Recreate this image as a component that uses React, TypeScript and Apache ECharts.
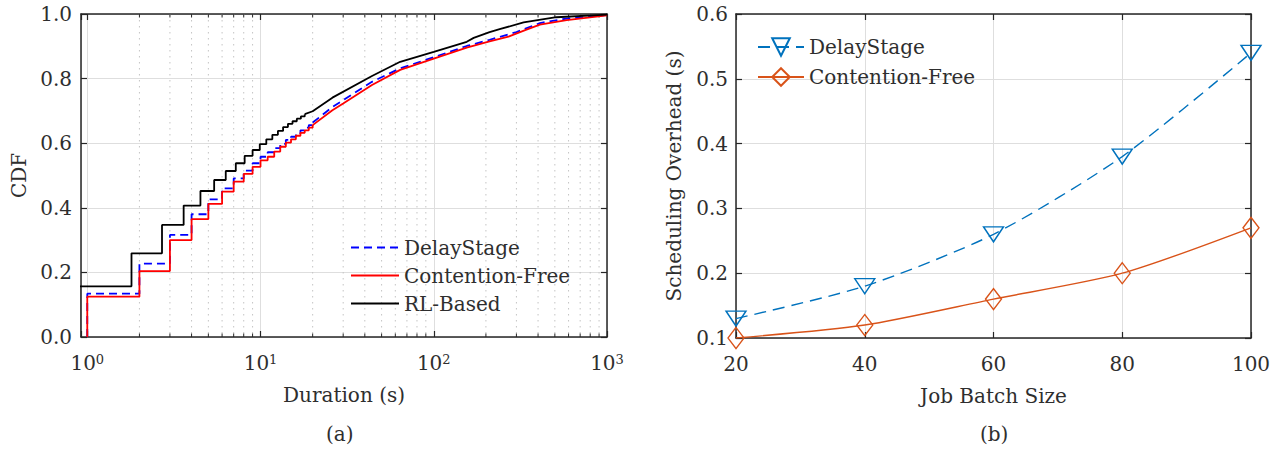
import React, { useEffect, useRef } from 'react';
import * as echarts from 'echarts';

// ---------- Panel (a): CDF of job durations ----------
const delayStepX = [1, 1, 2, 3, 4, 5, 6, 7, 8, 9, 10, 11, 12, 13, 14, 15, 16, 17, 18, 19, 20];
const delayStepF = [0, 0.134, 0.227, 0.316, 0.38, 0.426, 0.46, 0.491, 0.515, 0.538, 0.558, 0.572, 0.585, 0.598, 0.61, 0.62, 0.631, 0.64, 0.648, 0.656, 0.664];
const delayTailX = [20, 26, 30, 44, 64, 100, 155, 210, 300, 410, 585, 1000];
const delayTailF = [0.664, 0.712, 0.733, 0.79, 0.832, 0.866, 0.901, 0.92, 0.944, 0.972, 0.986, 0.997];

const freeStepX = [1, 1, 2, 3, 4, 5, 6, 7, 8, 9, 10, 11, 12, 13, 14, 15, 16, 17, 18, 19, 20];
const freeStepF = [0, 0.125, 0.204, 0.3, 0.365, 0.412, 0.45, 0.481, 0.505, 0.527, 0.547, 0.558, 0.574, 0.589, 0.602, 0.612, 0.623, 0.632, 0.64, 0.648, 0.656];
const freeTailX = [20, 26, 30, 44, 64, 100, 155, 210, 270, 340, 410, 585, 1000];
const freeTailF = [0.656, 0.702, 0.723, 0.78, 0.827, 0.862, 0.896, 0.915, 0.93, 0.951, 0.967, 0.981, 0.996];

const rlStepX = [0.9, 0.9, 1.8, 2.7, 3.6, 4.5, 5.4, 6.3, 7.2, 8.1, 9, 9.9, 10.8, 11.7, 12.6, 13.5, 14.4, 15.3, 16.2, 17.1, 18];
const rlStepF = [0, 0.157, 0.259, 0.347, 0.407, 0.452, 0.486, 0.514, 0.538, 0.561, 0.579, 0.597, 0.612, 0.626, 0.638, 0.65, 0.66, 0.668, 0.676, 0.683, 0.69];
const rlTailX = [18, 20, 26, 44, 64, 100, 155, 170, 210, 240, 330, 510, 1000];
const rlTailF = [0.69, 0.699, 0.741, 0.808, 0.852, 0.883, 0.914, 0.926, 0.944, 0.953, 0.974, 0.99, 0.998];

const minorTickValues = [2, 3, 4, 5, 6, 7, 8, 9, 20, 30, 40, 50, 60, 70, 80, 90, 200, 300, 400, 500, 600, 700, 800, 900];

// ---------- Panel (b): scheduling overhead ----------
const batchSizes = [20, 40, 60, 80, 100];
const delayOverhead = [0.13, 0.18, 0.26, 0.38, 0.54];
const freeOverhead = [0.1, 0.12, 0.16, 0.2, 0.27];

const legendA = ['DelayStage', 'Contention-Free', 'RL-Based'];
const legendB = ['DelayStage (b)', 'Contention-Free (b)'];

const FONT = 'DejaVu Serif';
const INK = '#2e2e2e';
const GRID = '#dedede';
const FS = 20;

const zip = (xs: number[], ys: number[]) => xs.map((x, i) => [x, ys[i]]);

const axisLine = { show: true, onZero: false, lineStyle: { color: '#262626', width: 1.5 } };
const tickIn = { show: true, inside: true, length: 6, lineStyle: { color: '#262626', width: 1.2 } };
const split = { show: true, lineStyle: { color: GRID, width: 1 } };
const label = { color: INK, fontFamily: FONT, fontSize: FS };
const nameStyle = { color: INK, fontFamily: FONT, fontSize: FS };

function logLabel(v: number) {
  const e = Math.log10(v);
  const r = Math.round(e);
  if (Math.abs(e - r) > 1e-6) return '';
  return `{b|10}{s|${r}}`;
}

export default function App() {
  const ref = useRef<HTMLDivElement>(null);
  useEffect(() => {
    document.body.style.margin = '0';
    const chart = echarts.init(ref.current!, null, { renderer: 'svg' });
    const option: any = {
      animation: false,
      textStyle: { fontFamily: FONT },
      grid: [
        { left: 81, top: 14, width: 526, height: 323 },
        { left: 736, top: 14, width: 515, height: 324 },
      ],
      xAxis: [
        {
          type: 'log', logBase: 10, gridIndex: 0, min: 0.92, max: 1000, position: 'bottom',
          axisLine, axisTick: tickIn, splitLine: split,
          axisLabel: {
            margin: 16, formatter: logLabel, fontFamily: FONT,
            rich: {
              b: { fontSize: FS, fontFamily: FONT, color: INK },
              s: { fontSize: 13, fontFamily: FONT, color: INK, verticalAlign: 'top', padding: [0, 0, 4, 0] },
            },
          },
          name: 'Duration (s)', nameLocation: 'middle', nameGap: 48, nameTextStyle: nameStyle,
        },
        {
          type: 'log', logBase: 10, gridIndex: 0, min: 0.92, max: 1000, position: 'top',
          axisLine, axisTick: tickIn, splitLine: { show: false }, axisLabel: { show: false },
        },
        {
          type: 'value', gridIndex: 1, min: 20, max: 100, interval: 20, position: 'bottom',
          axisLine, axisTick: tickIn, splitLine: split,
          axisLabel: { ...label, margin: 16 },
          name: 'Job Batch Size', nameLocation: 'middle', nameGap: 48, nameTextStyle: nameStyle,
        },
        {
          type: 'value', gridIndex: 1, min: 20, max: 100, interval: 20, position: 'top',
          axisLine, axisTick: tickIn, splitLine: { show: false }, axisLabel: { show: false },
        },
      ],
      yAxis: [
        {
          type: 'value', gridIndex: 0, min: 0, max: 1, interval: 0.2, position: 'left',
          axisLine, axisTick: tickIn, splitLine: split,
          axisLabel: { ...label, margin: 9, formatter: (v: number) => v.toFixed(1) },
          name: 'CDF', nameLocation: 'middle', nameGap: 52, nameTextStyle: nameStyle,
        },
        {
          type: 'value', gridIndex: 0, min: 0, max: 1, interval: 0.2, position: 'right',
          axisLine, axisTick: tickIn, splitLine: { show: false }, axisLabel: { show: false },
        },
        {
          type: 'value', gridIndex: 1, min: 0.1, max: 0.6, interval: 0.1, position: 'left',
          axisLine, axisTick: tickIn, splitLine: split,
          axisLabel: { ...label, margin: 8, formatter: (v: number) => v.toFixed(1) },
          name: 'Scheduling Overhead (s)', nameLocation: 'middle', nameGap: 52, nameTextStyle: nameStyle,
        },
        {
          type: 'value', gridIndex: 1, min: 0.1, max: 0.6, interval: 0.1, position: 'right',
          axisLine, axisTick: tickIn, splitLine: { show: false }, axisLabel: { show: false },
        },
      ],
      legend: [
        {
          data: legendA, orient: 'vertical', left: 350, top: 237, padding: 0,
          itemWidth: 48, itemHeight: 14, itemGap: 7,
          textStyle: { ...label, lineHeight: 21 },
          itemStyle: { opacity: 0 },
        },
        {
          data: legendB, orient: 'vertical', left: 757, top: 37, padding: 0,
          itemWidth: 46, itemHeight: 22, itemGap: 10,
          formatter: (n: string) => n.replace(' (b)', ''),
          textStyle: { ...label },
        },
      ],
      graphic: [
        { type: 'text', left: 326, top: 424, style: { text: '(a)', font: `${FS}px ${FONT}`, fill: INK } },
        { type: 'text', left: 980, top: 424, style: { text: '(b)', font: `${FS}px ${FONT}`, fill: INK } },
      ],
      series: [
        {
          type: 'custom', xAxisIndex: 0, yAxisIndex: 0, silent: true, z: 1,
          data: minorTickValues.map((v) => [v, 0]),
          renderItem: (_p: any, api: any) => {
            const x = api.value(0);
            const t = api.coord([x, 1]);
            const b = api.coord([x, 0]);
            return {
              type: 'group',
              children: [
                { type: 'line', shape: { x1: t[0], y1: t[1], x2: b[0], y2: b[1] }, style: { stroke: '#c4c4c4', lineWidth: 1, lineDash: [1.5, 4.5] } },
                { type: 'line', shape: { x1: b[0], y1: b[1], x2: b[0], y2: b[1] - 3.5 }, style: { stroke: '#262626', lineWidth: 1 } },
                { type: 'line', shape: { x1: t[0], y1: t[1], x2: t[0], y2: t[1] + 3.5 }, style: { stroke: '#262626', lineWidth: 1 } },
              ],
            };
          },
        },
        {
          type: 'line', name: 'DelayStage', xAxisIndex: 0, yAxisIndex: 0, step: 'end', symbol: 'none', z: 3,
          data: zip(delayStepX, delayStepF),
          lineStyle: { color: '#0000ff', width: 1.8, type: [8, 5] }, itemStyle: { color: '#0000ff' },
        },
        {
          type: 'line', name: 'DelayStage', xAxisIndex: 0, yAxisIndex: 0, symbol: 'none', z: 3,
          data: zip(delayTailX, delayTailF),
          lineStyle: { color: '#0000ff', width: 1.8, type: [8, 5] }, itemStyle: { color: '#0000ff' },
        },
        {
          type: 'line', name: 'Contention-Free', xAxisIndex: 0, yAxisIndex: 0, step: 'end', symbol: 'none', z: 4,
          data: zip(freeStepX, freeStepF),
          lineStyle: { color: '#ff0000', width: 1.8 }, itemStyle: { color: '#ff0000' },
        },
        {
          type: 'line', name: 'Contention-Free', xAxisIndex: 0, yAxisIndex: 0, symbol: 'none', z: 4,
          data: zip(freeTailX, freeTailF),
          lineStyle: { color: '#ff0000', width: 1.8 }, itemStyle: { color: '#ff0000' },
        },
        {
          type: 'line', name: 'RL-Based', xAxisIndex: 0, yAxisIndex: 0, step: 'end', symbol: 'none', z: 5,
          data: zip(rlStepX, rlStepF),
          lineStyle: { color: '#000000', width: 1.8 }, itemStyle: { color: '#000000' },
        },
        {
          type: 'line', name: 'RL-Based', xAxisIndex: 0, yAxisIndex: 0, symbol: 'none', z: 5,
          data: zip(rlTailX, rlTailF),
          lineStyle: { color: '#000000', width: 1.8 }, itemStyle: { color: '#000000' },
        },
        {
          type: 'line', name: 'DelayStage (b)', xAxisIndex: 2, yAxisIndex: 2, smooth: 0.25, z: 3,
          data: zip(batchSizes, delayOverhead),
          symbol: 'path://M0,0L20,0L10,15Z', symbolSize: [20, 15],
          lineStyle: { color: '#0072BD', width: 1.4, type: [12, 7] },
          itemStyle: { color: 'rgba(255,255,255,0)', borderColor: '#0072BD', borderWidth: 1.4 },
        },
        {
          type: 'line', name: 'Contention-Free (b)', xAxisIndex: 2, yAxisIndex: 2, smooth: 0.25, z: 3,
          data: zip(batchSizes, freeOverhead),
          symbol: 'diamond', symbolSize: [16, 21],
          lineStyle: { color: '#D95319', width: 1.4 },
          itemStyle: { color: 'rgba(255,255,255,0)', borderColor: '#D95319', borderWidth: 1.4 },
        },
      ],
    };
    chart.setOption(option);
    return () => chart.dispose();
  }, []);
  return <div ref={ref} style={{ width: 1283, height: 450 }} />;
}
